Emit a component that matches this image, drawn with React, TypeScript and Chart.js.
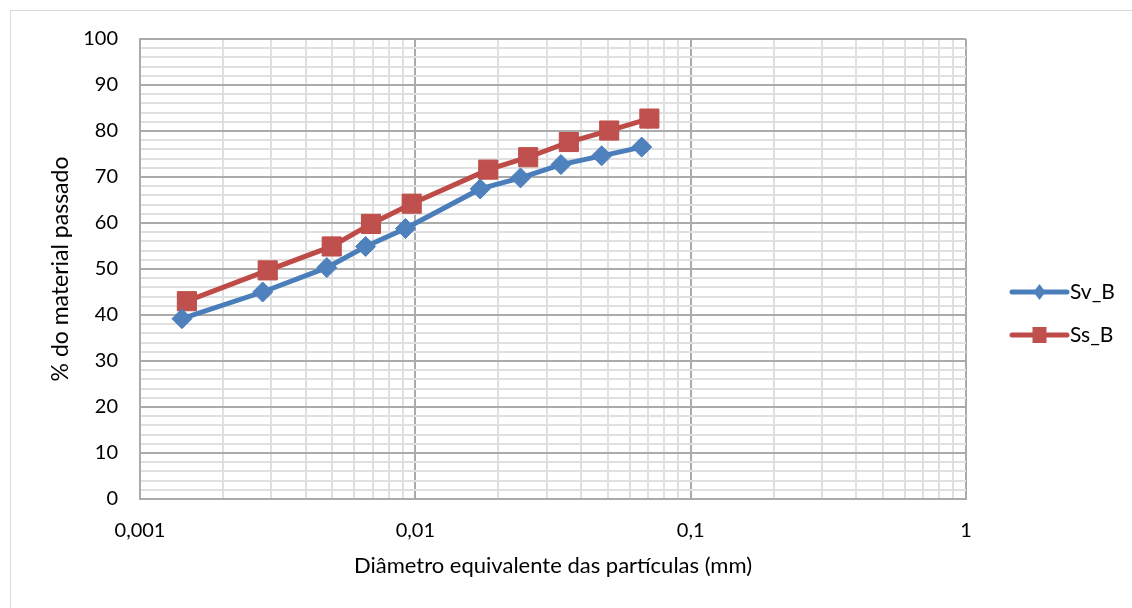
import React, { useEffect, useRef } from 'react';
import { Chart, registerables } from 'chart.js';

Chart.register(...registerables);

// ---- data ----
const seriesLabels = ['Sv_B', 'Ss_B'];
const svDiameters = [0.00142, 0.00279, 0.00477, 0.0066, 0.00921, 0.0172, 0.0241, 0.0338, 0.0475, 0.0664];
const svPassing = [39.2, 45.0, 50.3, 54.9, 58.8, 67.4, 69.8, 72.7, 74.6, 76.5];
const ssDiameters = [0.00148, 0.00291, 0.00497, 0.0069, 0.0097, 0.0184, 0.0257, 0.0361, 0.0506, 0.0708];
const ssPassing = [43.0, 49.7, 54.9, 59.8, 64.2, 71.6, 74.3, 77.6, 80.1, 82.7];

// ---- axis ticks ----
const xDecades = [0.001, 0.01, 0.1, 1];
const xTickLabels = ['0,001', '0,01', '0,1', '1'];
const xMantissas = [1, 2, 3, 4, 5, 6, 7, 8, 9];
const yMajorTicks = [0, 10, 20, 30, 40, 50, 60, 70, 80, 90, 100];
const yMinorStep = 2;

const BLUE_LINE = '#4A7EBB';
const BLUE_FILL = '#4F81BD';
const RED_LINE = '#BE4B48';
const RED_FILL = '#C0504D';
const GRID_MAJOR = '#ABABAB';
const GRID_MINOR = '#E0E0E0';
const FONT = 'Lato';

const isDecade = (v: number) => xDecades.some((d) => Math.abs(v - d) / d < 1e-9);

const buildXTicks = () => {
  const ticks: { value: number }[] = [];
  xDecades.forEach((d, i) => {
    if (i === xDecades.length - 1) {
      ticks.push({ value: d });
    } else {
      xMantissas.forEach((m) => ticks.push({ value: Number((m * d).toPrecision(12)) }));
    }
  });
  return ticks;
};

const buildYTicks = () => {
  const ticks: { value: number }[] = [];
  const max = yMajorTicks[yMajorTicks.length - 1];
  for (let v = yMajorTicks[0]; v <= max; v += yMinorStep) ticks.push({ value: v });
  return ticks;
};

const frameAndLegend = {
  id: 'frameAndLegend',
  beforeDraw(chart: any) {
    const ctx = chart.ctx;
    ctx.save();
    ctx.fillStyle = '#ffffff';
    ctx.fillRect(0, 0, chart.width, chart.height);
    ctx.strokeStyle = '#D9D9D9';
    ctx.lineWidth = 1;
    ctx.strokeRect(10.5, 10.5, chart.width + 20, chart.height + 20);
    ctx.restore();
  },
  afterDraw(chart: any) {
    const ctx = chart.ctx;
    const area = chart.chartArea;
    const x0 = area.right + 46;
    const x1 = x0 + 55;
    const xm = (x0 + x1) / 2;
    ctx.save();
    chart.data.datasets.forEach((ds: any, i: number) => {
      const y = 292 + i * 43;
      ctx.strokeStyle = ds.borderColor;
      ctx.lineWidth = 5;
      ctx.lineCap = 'round';
      ctx.beginPath();
      ctx.moveTo(x0, y);
      ctx.lineTo(x1, y);
      ctx.stroke();
      ctx.fillStyle = ds.pointBackgroundColor;
      ctx.beginPath();
      if (ds.pointStyle === 'rectRot') {
        ctx.moveTo(xm, y - 8);
        ctx.lineTo(xm + 6, y);
        ctx.lineTo(xm, y + 8);
        ctx.lineTo(xm - 6, y);
        ctx.closePath();
      } else {
        ctx.rect(xm - 7, y - 8, 14, 16);
      }
      ctx.fill();
      ctx.fillStyle = '#000000';
      ctx.font = `21px ${FONT}`;
      ctx.textBaseline = 'middle';
      ctx.textAlign = 'left';
      ctx.fillText(ds.label, x1 + 3, y);
    });
    ctx.restore();
  },
};

export default function App() {
  const canvasRef = useRef<HTMLCanvasElement | null>(null);

  useEffect(() => {
    if (!canvasRef.current) return;
    const chart = new Chart(canvasRef.current, {
      type: 'line',
      data: {
        datasets: [
          {
            label: seriesLabels[0],
            data: svDiameters.map((x, i) => ({ x, y: svPassing[i] })),
            borderColor: BLUE_LINE,
            backgroundColor: BLUE_FILL,
            pointBackgroundColor: BLUE_FILL,
            pointBorderColor: BLUE_LINE,
            pointStyle: 'rectRot',
            pointRadius: 10,
            pointBorderWidth: 1,
            borderWidth: 5,
            tension: 0,
          },
          {
            label: seriesLabels[1],
            data: ssDiameters.map((x, i) => ({ x, y: ssPassing[i] })),
            borderColor: RED_LINE,
            backgroundColor: RED_FILL,
            pointBackgroundColor: RED_FILL,
            pointBorderColor: RED_LINE,
            pointStyle: 'rect',
            pointRadius: 13.5,
            pointBorderWidth: 1,
            borderWidth: 5,
            tension: 0,
          },
        ],
      } as any,
      options: {
        animation: false,
        responsive: false,
        devicePixelRatio: 1,
        layout: { padding: { left: 10, top: 39, right: 166, bottom: 29 } },
        plugins: {
          legend: { display: false },
          tooltip: { enabled: false },
        },
        scales: {
          x: {
            type: 'logarithmic',
            min: xDecades[0],
            max: xDecades[xDecades.length - 1],
            afterBuildTicks: (axis: any) => {
              axis.ticks = buildXTicks();
            },
            afterFit: (axis: any) => {
              axis.height = 80;
            },
            grid: {
              drawTicks: false,
              color: (ctx: any) => (ctx.tick && isDecade(ctx.tick.value) ? GRID_MAJOR : GRID_MINOR),
              lineWidth: 2,
            },
            border: { display: true, color: GRID_MAJOR, width: 2 },
            ticks: {
              autoSkip: false,
              maxRotation: 0,
              padding: 20,
              color: '#000000',
              font: { family: FONT, size: 20 },
              callback: (value: any) => {
                const idx = xDecades.findIndex((d) => Math.abs(Number(value) - d) / d < 1e-9);
                return idx >= 0 ? xTickLabels[idx] : '';
              },
            },
            title: {
              display: true,
              text: 'Diâmetro equivalente das partículas (mm)',
              color: '#000000',
              font: { family: FONT, size: 22 },
              padding: { top: 0, bottom: 0 },
            },
          },
          y: {
            type: 'linear',
            min: yMajorTicks[0],
            max: yMajorTicks[yMajorTicks.length - 1],
            afterBuildTicks: (axis: any) => {
              axis.ticks = buildYTicks();
            },
            afterFit: (axis: any) => {
              axis.width = 130;
            },
            grid: {
              drawTicks: false,
              color: (ctx: any) => (ctx.tick && ctx.tick.value % 10 === 0 ? GRID_MAJOR : GRID_MINOR),
              lineWidth: 2,
            },
            border: { display: true, color: GRID_MAJOR, width: 2 },
            ticks: {
              autoSkip: false,
              padding: 22,
              color: '#000000',
              font: { family: FONT, size: 20 },
              callback: (value: any) => (yMajorTicks.includes(Number(value)) ? String(value) : ''),
            },
            title: {
              display: true,
              text: '% do material passado',
              color: '#000000',
              font: { family: FONT, size: 23 },
              padding: { top: 37, bottom: 0 },
            },
          },
        },
      } as any,
      plugins: [frameAndLegend],
    });
    return () => chart.destroy();
  }, []);

  return (
    <div style={{ position: 'absolute', left: 0, top: 0, width: 1132, height: 608, overflow: 'hidden' }}>
      <canvas ref={canvasRef} width={1132} height={608} style={{ display: 'block' }} />
    </div>
  );
}
